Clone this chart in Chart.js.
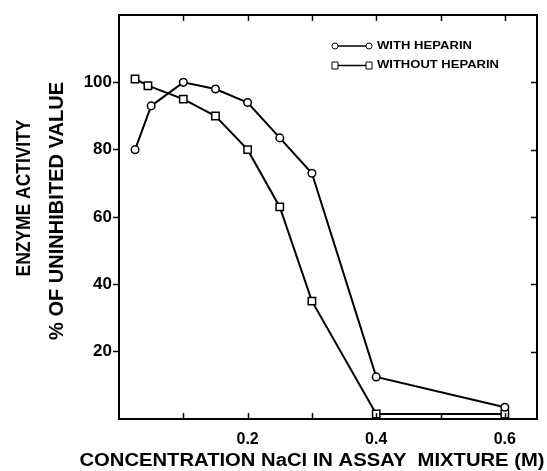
<!DOCTYPE html>
<html>
<head>
<meta charset="utf-8">
<script src="https://cdn.jsdelivr.net/npm/chart.js@4.4.1/dist/chart.umd.min.js"></script>
<style>
  body { margin: 0; background: #fff; }
  canvas { display: block; }
</style>
</head>
<body>
<canvas id="chartData" width="547" height="471"></canvas>
<script>
// NaCl concentration (M) and relative enzyme activity (%)
var concWith = [0.025, 0.05, 0.1, 0.15, 0.2, 0.25, 0.3, 0.4, 0.6];
var actWith = [80, 93, 100, 98, 94, 83.5, 73, 12.5, 3.5];
var concWithout = [0.025, 0.045, 0.1, 0.15, 0.2, 0.25, 0.3, 0.4, 0.6];
var actWithout = [101, 99, 95, 90, 80, 63, 35, 1.5, 1.5];

var xLabels = [0.2, 0.4, 0.6];
var yLabels = [20, 40, 60, 80, 100];

var FONT = '"Liberation Sans", Arial, sans-serif';

function toPoints(xs, ys) {
  var pts = [];
  for (var i = 0; i < xs.length; i++) {
    pts.push({ x: xs[i], y: ys[i] });
  }
  return pts;
}

function isLabelled(list, v) {
  for (var i = 0; i < list.length; i++) {
    if (Math.abs(list[i] - v) < 1e-6) return true;
  }
  return false;
}

// draw text centred on (cx, cy), stretched/squeezed to a given length
function fitText(c, text, cx, cy, len, size, angle) {
  c.save();
  c.font = 'bold ' + size + 'px ' + FONT;
  var w = c.measureText(text).width;
  c.translate(cx, cy);
  c.rotate(angle || 0);
  c.scale(len / w, 1);
  c.textAlign = 'center';
  c.textBaseline = 'middle';
  c.fillText(text, 0, 0);
  c.restore();
}

// box, inward ticks, axis titles and the little key in the corner
var framePlugin = {
  id: 'frame',
  afterDraw: function(chart) {
    var c = chart.ctx;
    var a = chart.chartArea;
    var xs = chart.scales.x;
    var ys = chart.scales.y;
    c.save();
    c.strokeStyle = '#000';
    c.lineWidth = 2;
    c.strokeRect(a.left, a.top, a.right - a.left, a.bottom - a.top);

    c.lineWidth = 1.5;
    c.beginPath();
    for (var v = 0.1; v < 0.65; v += 0.1) {
      var px = Math.round(xs.getPixelForValue(v)) + 0.5;
      c.moveTo(px, a.bottom);
      c.lineTo(px, a.bottom - 6);
      c.moveTo(px, a.top);
      c.lineTo(px, a.top + 6);
    }
    yLabels.forEach(function(val) {
      var py = Math.round(ys.getPixelForValue(val)) + 0.5;
      c.moveTo(a.right, py);
      c.lineTo(a.right - 6, py);
    });
    c.stroke();

    c.fillStyle = '#000';
    fitText(c, 'CONCENTRATION NaCl IN ASSAY  MIXTURE (M)', 312, 461, 465, 18, 0);
    fitText(c, 'ENZYME ACTIVITY', 24, 198, 157, 21, -Math.PI / 2);
    fitText(c, '% OF UNINHIBITED VALUE', 57.5, 211, 258, 20, -Math.PI / 2);

    // key
    var rows = [
      { y: 46, style: 'circle', label: chart.data.datasets[0].label, len: 95 },
      { y: 65.5, style: 'rect', label: chart.data.datasets[1].label, len: 122 }
    ];
    rows.forEach(function(r) {
      c.strokeStyle = '#000';
      c.lineWidth = 1.5;
      c.beginPath();
      c.moveTo(337, r.y);
      c.lineTo(368, r.y);
      c.stroke();
      [335, 369].forEach(function(mx) {
        c.beginPath();
        if (r.style === 'circle') {
          c.arc(mx, r.y, 3, 0, Math.PI * 2);
        } else {
          c.rect(mx - 3, r.y - 3.5, 6, 7);
        }
        c.fillStyle = '#fff';
        c.fill();
        c.lineWidth = 1;
        c.stroke();
      });
      c.fillStyle = '#000';
      c.save();
      c.font = 'bold 10px ' + FONT;
      var w = c.measureText(r.label).width;
      c.translate(377, r.y);
      c.scale(r.len / w, 1);
      c.textAlign = 'left';
      c.textBaseline = 'middle';
      c.fillText(r.label, 0, 0);
      c.restore();
    });
    c.restore();
  }
};

var ctx = document.getElementById('chartData').getContext('2d');

var myChart = new Chart(ctx, {
  type: 'scatter',
  data: {
    datasets: [
      {
        label: 'WITH HEPARIN',
        data: toPoints(concWith, actWith),
        showLine: true,
        borderColor: '#000',
        borderWidth: 2,
        backgroundColor: '#fff',
        pointStyle: 'circle',
        pointRadius: 3.8,
        pointBorderWidth: 1.5,
        pointBackgroundColor: '#fff',
        pointBorderColor: '#000'
      },
      {
        label: 'WITHOUT HEPARIN',
        data: toPoints(concWithout, actWithout),
        showLine: true,
        borderColor: '#000',
        borderWidth: 2,
        backgroundColor: '#fff',
        pointStyle: 'rect',
        pointRadius: 5.2,
        pointBorderWidth: 1.5,
        pointBackgroundColor: '#fff',
        pointBorderColor: '#000'
      }
    ]
  },
  options: {
    responsive: false,
    animation: false,
    devicePixelRatio: 1,
    layout: { padding: { left: 0, right: 10, top: 15, bottom: 0 } },
    plugins: {
      legend: { display: false },
      tooltip: { enabled: false }
    },
    scales: {
      x: {
        type: 'linear',
        min: 0,
        max: 0.65,
        afterFit: function(s) { s.height = 52; },
        border: { display: false },
        grid: { display: false },
        ticks: {
          stepSize: 0.1,
          includeBounds: false,
          autoSkip: false,
          maxRotation: 0,
          padding: 3,
          color: '#000',
          font: { family: FONT, size: 16, weight: 'bold' },
          callback: function(v) {
            return isLabelled(xLabels, v) ? v.toFixed(1) : '';
          }
        }
      },
      y: {
        type: 'linear',
        min: 0,
        max: 120,
        afterFit: function(s) { s.width = 119; },
        border: { display: false },
        grid: {
          drawOnChartArea: false,
          drawTicks: true,
          tickLength: 6,
          tickWidth: 1.5,
          color: function(c) {
            return c.tick && isLabelled(yLabels, c.tick.value) ? '#000' : 'rgba(0,0,0,0)';
          }
        },
        ticks: {
          stepSize: 20,
          padding: 1,
          color: '#000',
          font: { family: FONT, size: 17, weight: 'bold' },
          callback: function(v) {
            return isLabelled(yLabels, v) ? String(v) : '';
          }
        }
      }
    }
  },
  plugins: [framePlugin]
});
</script>
</body>
</html>
